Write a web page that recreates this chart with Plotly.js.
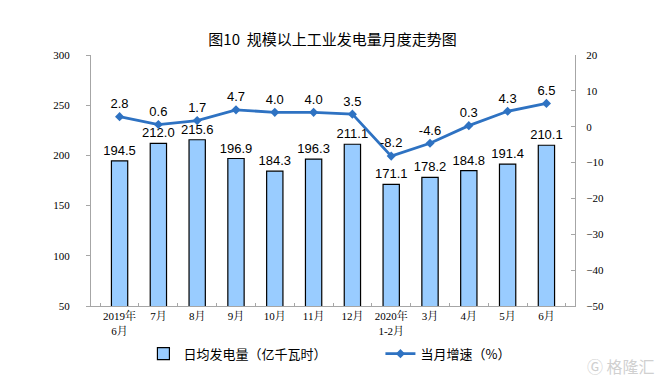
<!DOCTYPE html>
<html>
<head>
<meta charset="utf-8">
<script src="https://cdn.plot.ly/plotly-3.0.1.min.js"></script>
<style>html,body{margin:0;padding:0;background:#fff;}#chart{width:665px;height:384px;}</style>
</head>
<body>
<div id="chart"></div>
<script>
const categories = ["2019年<br>6月","7月","8月","9月","10月","11月","12月","2020年<br>1-2月","3月","4月","5月","6月"];
const dailyOutput = [194.5,212.0,215.6,196.9,184.3,196.3,211.1,171.1,178.2,184.8,191.4,210.1];
const monthlyGrowth = [2.8,0.6,1.7,4.7,4.0,4.0,3.5,-8.2,-4.6,0.3,4.3,6.5];
const leftTicks = [50,100,150,200,250,300];
const rightTicks = [-50,-40,-30,-20,-10,0,10,20];

const sans = "'Liberation Sans', Arial, 'Noto Sans CJK SC', sans-serif";
const serif = "'Liberation Serif', 'Times New Roman', 'Noto Serif CJK SC', 'Noto Sans CJK SC', serif";
const cjk = "'Noto Sans CJK SC', 'Liberation Sans', sans-serif";

const traces = [
  {
    type: 'bar', name: '日均发电量（亿千瓦时）',
    x: categories, y: dailyOutput,
    marker: {color: '#99CCFF', line: {color: '#000000', width: 1.2}},
    width: 0.42,
    text: dailyOutput.map(v => v.toFixed(1)), textposition: 'outside', constraintext: 'none',
    textfont: {family: sans, size: 13, color: '#000'},
    cliponaxis: false, yaxis: 'y', hoverinfo: 'skip'
  },
  {
    type: 'scatter', mode: 'lines+markers+text', name: '当月增速（%）',
    x: categories, y: monthlyGrowth,
    line: {color: '#2E72C2', width: 2.8},
    marker: {symbol: 'diamond', size: 7, color: '#2E72C2'},
    text: monthlyGrowth.map(v => v.toFixed(1)), textposition: 'top center',
    textfont: {family: sans, size: 13, color: '#000'},
    cliponaxis: false, yaxis: 'y2', hoverinfo: 'skip'
  }
];

const layout = {
  width: 665, height: 384,
  margin: {l: 91, r: 90, t: 55, b: 78, autoexpand: false},
  paper_bgcolor: '#fff', plot_bgcolor: '#fff',
  title: {text: '图10  规模以上工业发电量月度走势图', font: {family: cjk, size: 15, color: '#000'}, x: 0.5, xanchor: 'center', y: 0.896, yanchor: 'middle'},
  showlegend: true,
  legend: {orientation: 'h', x: 0.598, xanchor: 'center', y: -0.19, yanchor: 'middle', bgcolor: 'rgba(0,0,0,0)',
    font: {family: cjk, size: 13, color: '#000'}, itemwidth: 30, traceorder: 'normal', entrywidthmode: 'pixels', entrywidth: 192},
  bargap: 0.58,
  xaxis: {
    type: 'category', showline: true, linecolor: '#A6A6A6', linewidth: 1, tickangle: 0,
    ticks: 'inside', tickson: 'boundaries', ticklen: 3, tickcolor: '#A6A6A6',
    tickfont: {family: serif, size: 11, color: '#000'},
    showgrid: false, zeroline: false, fixedrange: true, ticklabelstandoff: 0
  },
  yaxis: {
    range: [50, 300], tickvals: leftTicks, showline: true, linecolor: '#A6A6A6', linewidth: 1,
    ticks: 'outside', ticklen: 4, tickcolor: '#A6A6A6', showgrid: false, zeroline: false,
    tickfont: {family: serif, size: 11, color: '#000'}, ticklabelstandoff: 14
  },
  yaxis2: {
    range: [-50, 20], tickvals: rightTicks, overlaying: 'y', side: 'right',
    showline: true, linecolor: '#A6A6A6', linewidth: 1,
    ticks: 'inside', ticklen: 4, tickcolor: '#A6A6A6', showgrid: false, zeroline: false,
    tickfont: {family: serif, size: 11, color: '#000'}, ticklabelstandoff: 8
  },
  annotations: [
    {text: 'Ⓖ 格隆汇', xref: 'paper', yref: 'paper', x: 1.17, y: -0.24, xanchor: 'right', yanchor: 'middle', showarrow: false,
     font: {family: cjk, size: 16, color: '#D0D0D0'}}
  ]
};

Plotly.newPlot('chart', traces, layout, {staticPlot: true, displayModeBar: false});
</script>
</body>
</html>
